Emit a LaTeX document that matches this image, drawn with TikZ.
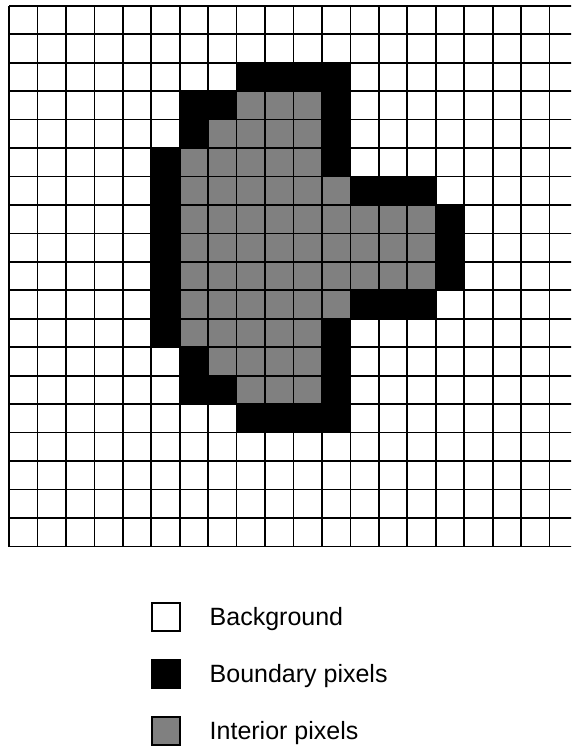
\documentclass[tikz,border=0pt]{standalone}
\usepackage{fontspec}
\setmainfont{Liberation Sans}
\definecolor{pixgray}{HTML}{808080}
\tikzset{
  gridline/.style={line width=1.7pt, black},
  bpix/.style={fill=black},
  ipix/.style={fill=pixgray},
  legbox/.style={draw=black, line width=1.5pt, minimum size=28pt, inner sep=0pt},
  legtext/.style={anchor=base west, inner sep=0pt, font=\fontsize{25}{30}\selectfont}
}
\begin{document}
\begin{tikzpicture}[x=1pt,y=-1pt]
\useasboundingbox (0,0) rectangle (571,747);
\begin{scope}
\clip (0,0) rectangle (571,747);
\begin{scope}[shift={(9,5.8)}, x=28.5pt, y=-28.47pt]
  % interior (gray) cells: row / first col / last col
  \foreach \r/\a/\b in {3/8/10, 4/7/10, 5/6/10, 6/6/11, 7/6/14, 8/6/14, 9/6/14, 10/6/11, 11/6/10, 12/7/10, 13/8/10}
    \fill[ipix] (\a,\r) rectangle (\b+1,\r+1);
  % boundary (black) cells
  \foreach \r/\a/\b in {2/8/11, 3/6/7, 3/11/11, 4/6/6, 4/11/11, 5/5/5, 5/11/11,
                        6/5/5, 6/12/14, 7/5/5, 7/15/15, 8/5/5, 8/15/15, 9/5/5, 9/15/15,
                        10/5/5, 10/12/14, 11/5/5, 11/11/11, 12/6/6, 12/11/11,
                        13/6/7, 13/11/11, 14/8/11}
    \fill[bpix] (\a,\r) rectangle (\b+1,\r+1);
  \draw[gridline] (0,0) grid (20,19);
\end{scope}
\end{scope}
% legend
\node[legbox, fill=white] (bgbox) at (166,617.2) {};
\node[legbox, fill=black] (bdbox) at (166,674.2) {};
\node[legbox, fill=pixgray] (inbox) at (166,731.2) {};
\node[legtext] (bgtext) at (209.5,625.7) {Background};
\node[legtext] (bdtext) at (209.5,682.5) {Boundary pixels};
\node[legtext] (intext) at (209.5,739.2) {Interior pixels};
\end{tikzpicture}
\end{document}
